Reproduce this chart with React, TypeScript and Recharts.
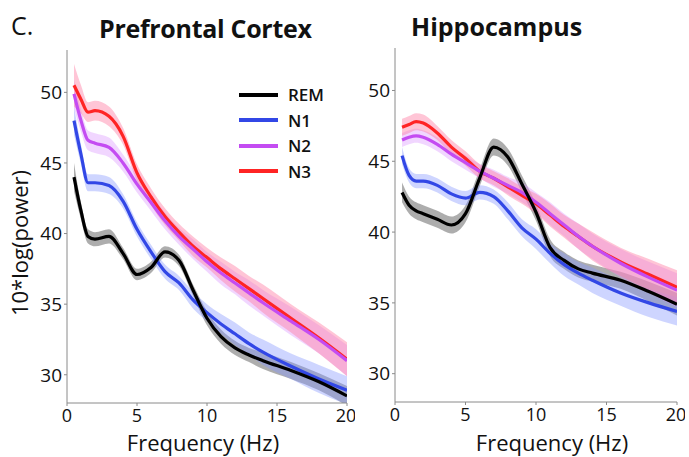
import React from 'react';
import { ComposedChart, Line, Area, XAxis, YAxis } from 'recharts';

// frequency grid (Hz)
const freqs = [0.5, 1, 1.5, 2, 3, 4, 5, 6, 7, 8, 9, 10, 11, 12, 13, 14, 16, 18, 20];
const stages = ['REM', 'N1', 'N2', 'N3'];
const xTicks = [0, 5, 10, 15, 20];
const yTicks = [30, 35, 40, 45, 50];

// Prefrontal cortex, 10*log(power)
const pfcREM = [44.0, 41.6, 39.8, 39.6, 39.8, 38.6, 37.1, 37.6, 38.7, 38.1, 36.0, 34.0, 32.7, 31.9, 31.4, 31.0, 30.3, 29.5, 28.5];
const pfcN1 = [48.0, 45.6, 43.6, 43.6, 43.4, 42.3, 40.3, 38.7, 37.3, 36.5, 35.3, 34.4, 33.6, 32.9, 32.2, 31.6, 30.6, 29.7, 28.9];
const pfcN2 = [49.9, 48.0, 46.6, 46.4, 46.1, 45.0, 43.5, 42.2, 40.9, 39.8, 38.9, 38.0, 37.2, 36.5, 35.8, 35.1, 33.8, 32.5, 31.0];
const pfcN3 = [50.5, 49.5, 48.6, 48.7, 48.3, 46.9, 44.3, 42.6, 41.2, 40.1, 39.1, 38.3, 37.5, 36.8, 36.1, 35.4, 34.0, 32.6, 31.1];
// shaded error (+/-)
const pfcREMErr = [1.0, 0.6, 0.5, 0.5, 0.5, 0.4, 0.4, 0.4, 0.4, 0.4, 0.4, 0.5, 0.5, 0.5, 0.5, 0.6, 0.6, 0.6, 0.7];
const pfcN1Err = [1.0, 0.7, 0.6, 0.6, 0.6, 0.5, 0.5, 0.5, 0.5, 0.5, 0.6, 0.6, 0.7, 0.8, 0.8, 0.9, 0.9, 1.0, 1.0];
const pfcN2Err = [1.0, 0.8, 0.7, 0.7, 0.7, 0.6, 0.6, 0.6, 0.6, 0.6, 0.7, 0.7, 0.8, 0.8, 0.9, 0.9, 1.0, 1.0, 1.1];
const pfcN3Err = [1.5, 1.0, 0.7, 0.7, 0.7, 0.6, 0.6, 0.6, 0.6, 0.6, 0.7, 0.7, 0.8, 0.9, 0.9, 1.0, 1.0, 1.1, 1.2];

// Hippocampus
const hpcREM = [42.8, 41.9, 41.5, 41.3, 40.9, 40.5, 41.3, 43.8, 46.0, 45.3, 43.4, 41.4, 38.9, 38.0, 37.4, 37.1, 36.6, 35.8, 34.9];
const hpcN1 = [45.4, 44.0, 43.6, 43.6, 43.3, 42.7, 42.4, 42.8, 42.5, 41.5, 40.3, 39.5, 38.5, 37.7, 37.1, 36.6, 35.7, 35.0, 34.4];
const hpcN2 = [46.5, 46.7, 46.8, 46.7, 46.2, 45.5, 44.9, 44.3, 43.8, 43.3, 42.8, 42.1, 41.3, 40.5, 39.7, 39.0, 37.8, 36.8, 35.9];
const hpcN3 = [47.4, 47.6, 47.8, 47.7, 47.0, 46.0, 45.2, 44.3, 43.8, 43.2, 42.6, 42.0, 41.2, 40.4, 39.7, 39.0, 37.9, 37.0, 36.1];
const hpcREMErr = [0.7, 0.6, 0.6, 0.6, 0.6, 0.6, 0.6, 0.6, 0.6, 0.6, 0.6, 0.6, 0.6, 0.6, 0.6, 0.6, 0.6, 0.7, 0.8];
const hpcN1Err = [0.6, 0.5, 0.5, 0.5, 0.5, 0.5, 0.5, 0.5, 0.5, 0.6, 0.6, 0.7, 0.7, 0.8, 0.8, 0.9, 0.9, 1.0, 1.0];
const hpcN2Err = [0.5, 0.5, 0.5, 0.5, 0.5, 0.5, 0.5, 0.5, 0.6, 0.6, 0.7, 0.7, 0.8, 0.8, 0.9, 0.9, 1.0, 1.1, 1.2];
const hpcN3Err = [0.6, 0.6, 0.6, 0.6, 0.5, 0.5, 0.5, 0.5, 0.5, 0.6, 0.6, 0.7, 0.8, 0.8, 0.9, 1.0, 1.0, 1.1, 1.2];

const lineColors = ['#000000', '#3247e6', '#c44cf2', '#ff2424'];
const bandColors = ['#4a4a4a', '#8597ff', '#dd99ff', '#ff7fa3'];
const bandOpacity = [0.45, 0.4, 0.4, 0.45];

const FONT = '"Open Sans", sans-serif';

function buildRows(series: number[][], errs: number[][]) {
  return freqs.map((f, i) => {
    const row: any = { f };
    stages.forEach((s, k) => {
      row[s] = series[k][i];
      row[s + '_band'] = [series[k][i] - errs[k][i], series[k][i] + errs[k][i]];
    });
    return row;
  });
}

const pfcRows = buildRows([pfcREM, pfcN1, pfcN2, pfcN3], [pfcREMErr, pfcN1Err, pfcN2Err, pfcN3Err]);
const hpcRows = buildRows([hpcREM, hpcN1, hpcN2, hpcN3], [hpcREMErr, hpcN1Err, hpcN2Err, hpcN3Err]);

function StageLegend() {
  return (
    <div style={{ position: 'absolute', left: 239, top: 82, fontFamily: FONT, fontWeight: 600, fontSize: 17 }}>
      {stages.map((s, k) => (
        <div key={s} style={{ display: 'flex', alignItems: 'center', height: 25.5 }}>
          <div style={{ width: 39, height: 4, background: lineColors[k], marginRight: 10 }} />
          <span style={{ color: '#111' }}>{s}</span>
        </div>
      ))}
    </div>
  );
}

interface PanelProps {
  rows: any[];
  width: number;
  top: number;
  bottom: number;
  yWidth: number;
  xLabelDx: number;
}

function Panel({ rows, width, top, bottom, yWidth, xLabelDx }: PanelProps) {
  const tickStyle = { fontFamily: FONT, fontSize: 18, fill: '#111' };
  return (
    <ComposedChart width={width} height={457} data={rows} margin={{ top, right: 8, bottom: 0, left: 0 }}>
      <XAxis
        dataKey="f"
        type="number"
        domain={[0, 20]}
        ticks={xTicks}
        allowDataOverflow
        height={457 - bottom}
        stroke="#8a8a8a"
        tickSize={3}
        tickMargin={3}
        tick={tickStyle}
        label={{
          value: 'Frequency (Hz)',
          position: 'insideBottom',
          offset: 6,
          dx: xLabelDx,
          style: { fontFamily: FONT, fontSize: 22, fill: '#111' },
        }}
      />
      <YAxis
        type="number"
        domain={[28, 53]}
        ticks={yTicks}
        allowDataOverflow
        width={yWidth}
        stroke="#8a8a8a"
        tickSize={3}
        tickMargin={2}
        tick={{ ...tickStyle, fontSize: 19 }}
      />
      {stages.map((s, k) => (
        <Area
          key={s + '_band'}
          dataKey={s + '_band'}
          type="monotone"
          stroke="none"
          fill={bandColors[k]}
          fillOpacity={bandOpacity[k]}
          isAnimationActive={false}
          activeDot={false}
        />
      ))}
      {[3, 2, 1, 0].map((k) => (
        <Line
          key={stages[k]}
          dataKey={stages[k]}
          type="monotone"
          stroke={lineColors[k]}
          strokeWidth={3.2}
          dot={false}
          isAnimationActive={false}
        />
      ))}
    </ComposedChart>
  );
}

export default function App() {
  return (
    <div style={{ position: 'absolute', left: 0, top: 0, width: 689, height: 457, background: '#fff', overflow: 'hidden' }}>
      <div style={{ position: 'absolute', left: 0, top: 0 }}>
        <Panel rows={pfcRows} width={355} top={50} bottom={403} yWidth={67} xLabelDx={-4} />
      </div>
      <div style={{ position: 'absolute', left: 345, top: 0 }}>
        <Panel rows={hpcRows} width={340} top={48} bottom={402} yWidth={50} xLabelDx={16} />
      </div>
      <StageLegend />
      <div style={{ position: 'absolute', left: 11, top: 8, fontFamily: FONT, fontSize: 25, color: '#111' }}>C.</div>
      <div style={{ position: 'absolute', left: 99, top: 11, fontFamily: FONT, fontWeight: 700, fontSize: 25, letterSpacing: -0.3, color: '#111', whiteSpace: 'nowrap' }}>
        Prefrontal Cortex
      </div>
      <div style={{ position: 'absolute', left: 411, top: 9, fontFamily: FONT, fontWeight: 700, fontSize: 25, letterSpacing: 0, color: '#111', whiteSpace: 'nowrap' }}>
        Hippocampus
      </div>
      <div
        style={{
          position: 'absolute',
          left: 19,
          top: 243,
          transform: 'translate(-50%, -50%) rotate(-90deg)',
          fontFamily: FONT,
          fontSize: 22,
          color: '#111',
          whiteSpace: 'nowrap',
        }}
      >
        10*log(power)
      </div>
    </div>
  );
}
